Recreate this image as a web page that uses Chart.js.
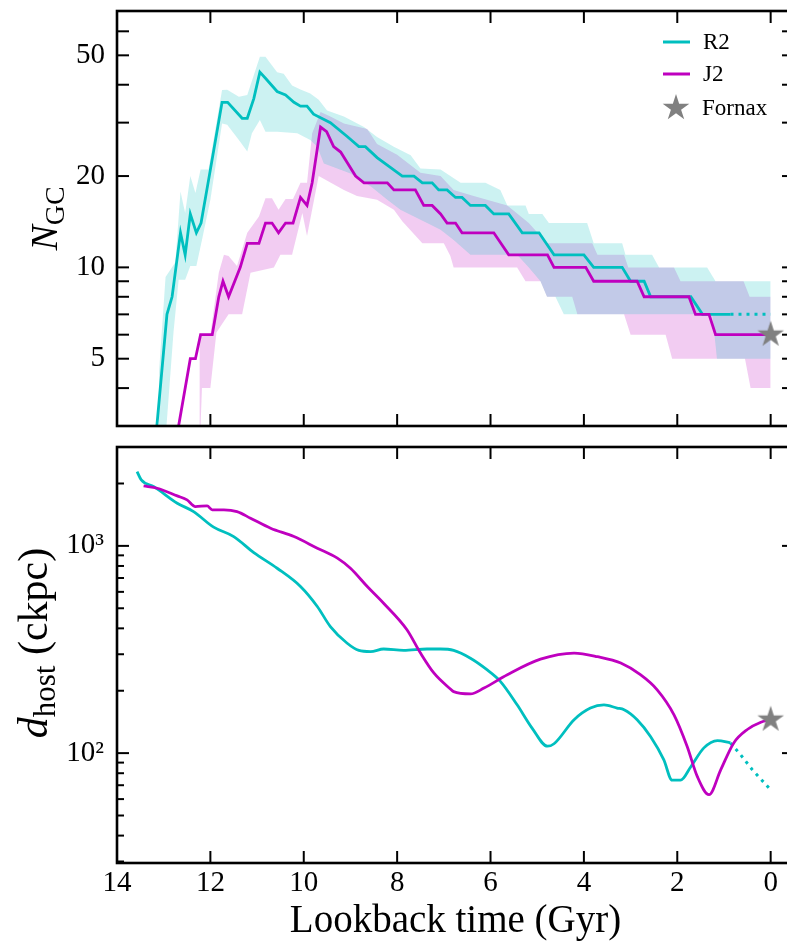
<!DOCTYPE html>
<html>
<head>
<meta charset="utf-8">
<script src="https://cdn.jsdelivr.net/npm/chart.js@4.4.1/dist/chart.umd.min.js"></script>
<style>
html, body { margin: 0; padding: 0; background: #fff; overflow: hidden; }
#wrap { position: relative; width: 787px; height: 943px; overflow: hidden; }
#wrap canvas { position: absolute; left: 0; }
</style>
</head>
<body>
<div id="wrap">
  <canvas id="ngc" width="800" height="440" style="top:0;width:800px;height:440px"></canvas>
  <canvas id="dhost" width="800" height="503" style="top:440px;width:800px;height:503px"></canvas>
</div>
<script>
// ---- data (lookback time in Gyr) ----
const xTicks = [14, 12, 10, 8, 6, 4, 2, 0];

// top panel: number of GCs
const r2Time = [13.25, 12.93, 12.82, 12.64, 12.54, 12.43, 12.30, 12.20, 12.0, 11.75, 11.63, 11.32, 11.21, 11.07, 10.94, 10.82, 10.57, 10.39, 10.21, 10.07, 9.93, 9.79, 9.43, 9.07, 8.82, 8.68, 8.43, 7.89, 7.64, 7.46, 7.25, 7.11, 6.93, 6.75, 6.61, 6.43, 6.11, 5.93, 5.61, 5.32, 4.96, 4.64, 4.0, 3.79, 3.18, 3.0, 2.71, 2.57, 1.71, 1.46, 0.86];
const r2N = [2, 7, 8, 13, 11, 15, 13, 14, 21, 35, 35, 31, 31, 36, 44, 42, 38, 37, 35, 34, 34, 32, 30, 27, 25, 25, 23, 20, 20, 19, 19, 18, 18, 17, 17, 16, 16, 15, 15, 13, 13, 11, 11, 10, 10, 9, 9, 8, 8, 7, 7];
const r2TailTime = [0.86, 0];
const r2TailN = [7, 7];

const j2Time = [12.88, 12.43, 12.32, 12.21, 11.96, 11.82, 11.73, 11.61, 11.36, 11.21, 10.96, 10.82, 10.68, 10.54, 10.39, 10.23, 10.07, 9.93, 9.82, 9.64, 9.51, 9.36, 9.21, 8.89, 8.71, 8.21, 8.07, 7.61, 7.43, 7.25, 7.07, 6.93, 6.75, 6.61, 5.93, 5.61, 4.78, 4.64, 3.96, 3.79, 2.86, 2.71, 1.75, 1.61, 1.32, 1.18, 0];
const j2N = [2, 5, 5, 6, 6, 8, 9, 8, 10, 12, 12, 14, 14, 13, 14, 14, 17, 16, 19, 29, 28, 25, 24, 20, 19, 19, 18, 18, 16, 16, 15, 14, 14, 13, 13, 11, 11, 10, 10, 9, 9, 8, 8, 7, 7, 6, 6];

// shaded ranges
const r2HiTime = [13.3, 13.18, 12.96, 12.75, 12.64, 12.54, 12.43, 12.32, 12.21, 12.04, 11.75, 11.64, 11.39, 11.21, 10.94, 10.82, 10.57, 10.43, 10.25, 10.07, 9.86, 9.68, 9.5, 9.14, 8.71, 8.43, 8.07, 7.71, 7.5, 7.07, 6.64, 6.11, 5.79, 5.64, 5.25, 5.18, 4.89, 4.75, 3.93, 3.79, 3.18, 3.11, 2.54, 2.39, 1.36, 1.18, 0];
const r2Hi = [2, 3, 9.3, 10.4, 17.8, 15.1, 20, 17.6, 21, 21, 38.4, 38.5, 36.5, 37, 49.5, 49.5, 44, 43.5, 39.8, 38.6, 37.4, 35.7, 32.9, 31.4, 29, 26.9, 25, 23.4, 21.2, 21, 19, 19, 18, 16, 16, 15, 15, 14, 14, 12, 12, 11, 11, 10, 10, 9, 9];
const r2LoTime = [13.1, 12.94, 12.79, 12.68, 12.54, 12.43, 12.3, 12.18, 12.0, 11.75, 11.64, 11.39, 11.21, 11.11, 10.94, 10.82, 10.57, 10.14, 9.86, 9.71, 9.57, 9.0, 8.57, 8.21, 7.93, 7.36, 7.07, 6.79, 6.43, 5.43, 5.18, 4.93, 4.79, 4.61, 4.43, 1.25, 1.15, 0];
const r2Lo = [2, 3, 6.1, 9.1, 9.1, 10.1, 10.1, 12.3, 16.7, 29.8, 29.5, 26.3, 24.1, 27.7, 30.6, 28, 28, 27.7, 26.3, 25, 22, 20.4, 18.5, 16.7, 15.5, 14, 13.3, 12.3, 11, 11, 10, 9, 8, 8, 7, 7, 5, 5];

const j2HiTime = [12.86, 12.71, 12.46, 12.0, 11.82, 11.71, 11.61, 11.43, 11.21, 10.96, 10.82, 10.68, 10.54, 10.39, 10.23, 10.07, 9.93, 9.82, 9.64, 9.43, 9.14, 8.64, 8.43, 8.0, 7.5, 7.07, 6.79, 6.36, 5.64, 5.18, 4.79, 3.82, 3.71, 3.14, 3.05, 2.07, 1.93, 0.58, 0.45, 0];
const j2Hi = [2, 3, 6, 6, 9.6, 11, 10.9, 10.1, 13, 14.7, 16.9, 16.9, 15.5, 16.8, 16.8, 19, 19, 27.7, 32.5, 31.4, 29.8, 28.6, 25.5, 23.5, 20.5, 20, 18, 17.2, 16, 14, 12, 12, 11, 11, 10, 10, 9, 9, 8, 8];
const j2LoTime = [12.23, 12.21, 12.18, 12.0, 11.87, 11.61, 11.32, 11.14, 10.64, 10.5, 10.25, 10.03, 9.93, 9.68, 9.14, 8.86, 8.43, 8.07, 7.89, 7.46, 7.0, 6.86, 6.79, 5.43, 5.25, 4.93, 4.79, 4.25, 4.14, 3.14, 3.0, 2.25, 2.11, 0.55, 0.43, 0];
const j2Lo = [2, 3, 4, 4, 6.1, 7, 7, 9.6, 10, 11, 11, 15.1, 12.7, 20, 18, 17.2, 16.7, 15.5, 14.2, 12, 12, 10.9, 10, 10, 9, 9, 8, 8, 7, 7, 6, 6, 5, 5, 4, 4];

const fornaxTime = [0];
const fornaxN = [6];

// bottom panel: distance to host
const r2DTime = [13.57, 13.48, 13.21, 12.71, 12.36, 11.93, 11.5, 11.07, 10.57, 10.07, 9.71, 9.43, 9.07, 8.82, 8.57, 8.29, 7.86, 7.36, 7.07, 6.79, 6.43, 6.07, 5.79, 5.43, 5.11, 4.78, 4.64, 4.21, 3.86, 3.57, 3.29, 3.14, 2.86, 2.57, 2.29, 2.11, 1.93, 1.71, 1.43, 1.14, 0.86];
const r2D = [2282, 2082, 1932, 1607, 1464, 1231, 1109, 928, 780, 637, 510, 408, 339, 313, 309, 318, 313, 318, 318, 313, 287, 252, 222, 171, 132, 108, 111, 145, 165, 171, 165, 162, 145, 120, 93, 74, 74, 86, 106, 115, 112];
const r2DTailTime = [0.86, 0.64, 0.39, 0];
const r2DTail = [112, 98, 83, 66.5];

const j2DTime = [13.43, 13.14, 12.71, 12.5, 12.32, 12.07, 11.96, 11.71, 11.43, 11.14, 10.71, 10.21, 9.71, 9.28, 9.0, 8.64, 8.29, 7.79, 7.5, 7.21, 6.86, 6.79, 6.43, 6.14, 5.64, 4.93, 4.21, 3.71, 3.21, 2.79, 2.43, 2.07, 1.79, 1.57, 1.32, 1.07, 0.79, 0.5, 0.21, 0];
const j2D = [1947, 1897, 1742, 1667, 1548, 1560, 1493, 1493, 1464, 1360, 1217, 1109, 975, 873, 780, 637, 529, 394, 304, 243, 204, 198, 193, 206, 239, 284, 304, 292, 272, 239, 202, 153, 108, 77, 63, 83, 112, 130, 141, 145];

const fornaxD = [145];

// axis ticks
const nTickLabels = [5, 10, 20, 50];
const nTickMarks = [3, 4, 5, 6, 7, 8, 9, 10, 20, 30, 40, 50, 60];
const dTickLabels = [100, 1000];
const dMinorMarks = [30, 40, 50, 60, 70, 80, 90, 200, 300, 400, 500, 600, 700, 800, 900, 2000, 3000];

// ---- helpers ----
const CYAN = '#00bfbf';
const MAGENTA = '#bf00bf';
const SERIF = "'Liberation Serif', 'Times New Roman', serif";

const pairs = (xs, ys) => xs.map((x, i) => ({x: x, y: ys[i]}));

const makeStar = (r, color) => {
    const c = document.createElement('canvas');
    c.width = c.height = Math.ceil(r * 2 + 2);
    const g = c.getContext('2d');
    g.fillStyle = color;
    g.beginPath();
    for (let i = 0; i < 10; i++) {
        const rad = i % 2 === 0 ? r : r * 0.382;
        const a = -Math.PI / 2 + i * Math.PI / 5;
        g.lineTo(c.width / 2 + rad * Math.cos(a), c.height / 2 + rad * Math.sin(a));
    }
    g.closePath();
    g.fill();
    return c;
};
const star = makeStar(14, '#808080');

const noPad = s => { s.paddingLeft = 0; s.paddingRight = 0; s.paddingTop = 0; s.paddingBottom = 0; };

// frame + inward ticks on all four sides
const framePlugin = {
    id: 'frame',
    afterDatasetsDraw(chart, args, opts) {
        const {ctx, chartArea: a, scales: {x, y}} = chart;
        const seg = (x1, y1, x2, y2) => { ctx.beginPath(); ctx.moveTo(x1, y1); ctx.lineTo(x2, y2); ctx.stroke(); };
        ctx.save();
        ctx.strokeStyle = '#000';
        ctx.lineWidth = 2;
        xTicks.forEach(v => {
            const px = x.getPixelForValue(v);
            seg(px, a.top, px, a.top + 12);
            seg(px, a.bottom, px, a.bottom - 12);
        });
        (opts.major || []).forEach(v => {
            const py = y.getPixelForValue(v);
            seg(a.left, py, a.left + 12, py);
            seg(a.right, py, a.right - 12, py);
        });
        (opts.minor || []).forEach(v => {
            const py = y.getPixelForValue(v);
            seg(a.left, py, a.left + 7, py);
            seg(a.right, py, a.right - 7, py);
        });
        ctx.lineWidth = 2.6;
        ctx.strokeRect(a.left, a.top, a.width, a.height);
        ctx.restore();
    }
};

// y-axis title with subscript, drawn rotated
const yTitlePlugin = {
    id: 'ytitle',
    afterDraw(chart, args, opts) {
        const ctx = chart.ctx;
        const a = chart.chartArea;
        ctx.save();
        ctx.translate(opts.x, (a.top + a.bottom) / 2 + (opts.shift || 0));
        ctx.rotate(-Math.PI / 2);
        ctx.fillStyle = '#000';
        ctx.textBaseline = 'alphabetic';
        let total = 0;
        opts.parts.forEach(p => { ctx.font = p.font; total += ctx.measureText(p.text).width; });
        let cx = -total / 2;
        opts.parts.forEach(p => {
            ctx.font = p.font;
            ctx.fillText(p.text, cx, p.dy || 0);
            cx += ctx.measureText(p.text).width;
        });
        ctx.restore();
    }
};

// legend inside the top panel
const legendPlugin = {
    id: 'innerLegend',
    afterDraw(chart, args, opts) {
        const ctx = chart.ctx;
        ctx.save();
        ctx.font = '23px ' + SERIF;
        ctx.textBaseline = 'middle';
        ctx.fillStyle = '#000';
        opts.items.forEach(it => {
            if (it.star) {
                ctx.drawImage(star, it.x + 14 - star.width / 2, it.y - star.height / 2);
            } else {
                ctx.strokeStyle = it.color;
                ctx.lineWidth = 3;
                ctx.beginPath();
                ctx.moveTo(it.x, it.y);
                ctx.lineTo(it.x + 27, it.y);
                ctx.stroke();
            }
            ctx.fillText(it.label, it.x + 40, it.y + 1);
        });
        ctx.restore();
    }
};

const xScale = (height, showLabels) => ({
    type: 'linear',
    reverse: true,
    min: -0.5,
    max: 14,
    afterBuildTicks: s => { s.ticks = xTicks.map(v => ({value: v})); },
    afterFit: s => { s.height = height; noPad(s); },
    grid: {display: false, drawTicks: false},
    border: {display: false},
    ticks: {display: showLabels, padding: 3, maxRotation: 0, autoSkip: false, color: '#000', font: {family: SERIF, size: 29}},
    title: {display: showLabels, text: 'Lookback time (Gyr)', color: '#000', font: {family: SERIF, size: 39, lineHeight: 1.0}, padding: {top: 0, bottom: 2}}
});

const band = (data, color, fill) => ({
    data: data, borderWidth: 0, pointRadius: 0, backgroundColor: color, fill: fill, order: 3
});

// ---- top panel ----
new Chart(document.getElementById('ngc'), {
    type: 'line',
    data: {
        datasets: [
            band(pairs(r2HiTime, r2Hi), 'rgba(0,191,191,0.2)', '+1'),
            band(pairs(r2LoTime, r2Lo), 'rgba(0,191,191,0.2)', false),
            band(pairs(j2HiTime, j2Hi), 'rgba(191,0,191,0.2)', '+1'),
            band(pairs(j2LoTime, j2Lo), 'rgba(191,0,191,0.2)', false),
            {label: 'R2', data: pairs(r2Time, r2N), borderColor: CYAN, borderWidth: 2.8, pointRadius: 0, tension: 0, order: 2},
            {label: 'R2 tail', data: pairs(r2TailTime, r2TailN), borderColor: CYAN, borderWidth: 3, borderDash: [3, 5], pointRadius: 0, order: 2},
            {label: 'J2', data: pairs(j2Time, j2N), borderColor: MAGENTA, borderWidth: 2.8, pointRadius: 0, tension: 0, order: 1},
            {label: 'Fornax', data: pairs(fornaxTime, fornaxN), showLine: false, pointStyle: star, pointRadius: 14, order: 0}
        ]
    },
    options: {
        responsive: false,
        animation: false,
        events: [],
        layout: {autoPadding: false, padding: {left: 0, top: 11, right: 6, bottom: 0}},
        scales: {
            x: xScale(14, false),
            y: {
                type: 'logarithmic',
                min: 3,
                max: 70,
                afterBuildTicks: s => { s.ticks = nTickLabels.map(v => ({value: v})); },
                afterFit: s => { s.width = 117; noPad(s); },
                grid: {display: false, drawTicks: false},
                border: {display: false},
                ticks: {padding: 12, color: '#000', font: {family: SERIF, size: 29}, callback: v => String(v)}
            }
        },
        plugins: {
            legend: {display: false},
            tooltip: {enabled: false},
            frame: {major: nTickMarks, minor: []},
            ytitle: {x: 57, parts: [
                {text: 'N', font: 'italic 38px ' + SERIF},
                {text: 'GC', font: '28px ' + SERIF, dy: 7}
            ]},
            innerLegend: {items: [
                {label: 'R2', color: CYAN, x: 663, y: 42},
                {label: 'J2', color: MAGENTA, x: 663, y: 74},
                {label: 'Fornax', star: true, x: 662, y: 108}
            ]}
        }
    },
    plugins: [framePlugin, yTitlePlugin, legendPlugin]
});

// ---- bottom panel ----
new Chart(document.getElementById('dhost'), {
    type: 'line',
    data: {
        datasets: [
            {label: 'R2', data: pairs(r2DTime, r2D), borderColor: CYAN, borderWidth: 2.8, pointRadius: 0, cubicInterpolationMode: 'monotone', order: 2},
            {label: 'R2 tail', data: pairs(r2DTailTime, r2DTail), borderColor: CYAN, borderWidth: 3, borderDash: [3, 5], pointRadius: 0, order: 2},
            {label: 'J2', data: pairs(j2DTime, j2D), borderColor: MAGENTA, borderWidth: 2.8, pointRadius: 0, cubicInterpolationMode: 'monotone', order: 1},
            {label: 'Fornax', data: pairs(fornaxTime, fornaxD), showLine: false, pointStyle: star, pointRadius: 14, order: 0}
        ]
    },
    options: {
        responsive: false,
        animation: false,
        events: [],
        layout: {autoPadding: false, padding: {left: 0, top: 7, right: 6, bottom: 0}},
        scales: {
            x: xScale(80, true),
            y: {
                type: 'logarithmic',
                min: 29.5,
                max: 3000,
                afterBuildTicks: s => { s.ticks = dTickLabels.map(v => ({value: v})); },
                afterFit: s => { s.width = 117; noPad(s); },
                grid: {display: false, drawTicks: false},
                border: {display: false},
                ticks: {padding: 13, color: '#000', font: {family: SERIF, size: 29}, callback: v => (v === 100 ? '10\u00b2' : '10\u00b3')}
            }
        },
        plugins: {
            legend: {display: false},
            tooltip: {enabled: false},
            frame: {major: dTickLabels, minor: dMinorMarks},
            ytitle: {x: 47, shift: -12, parts: [
                {text: 'd', font: 'italic 42px ' + SERIF},
                {text: 'host', font: '31px ' + SERIF, dy: 8},
                {text: ' (ckpc)', font: '42px ' + SERIF}
            ]}
        }
    },
    plugins: [framePlugin, yTitlePlugin]
});
</script>
</body>
</html>
